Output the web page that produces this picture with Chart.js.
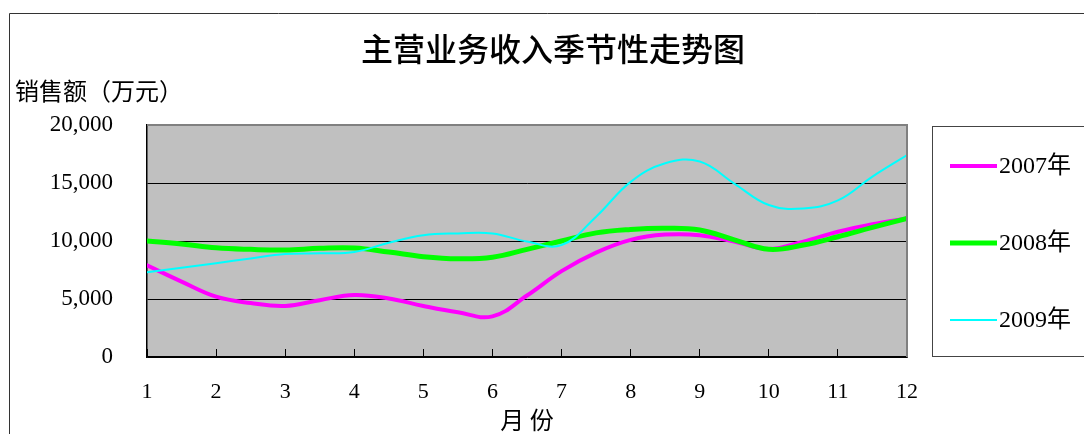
<!DOCTYPE html>
<html>
<head>
<meta charset="utf-8">
<script src="https://cdn.jsdelivr.net/npm/chart.js@4"></script>
<style>
  body { margin: 0; background: #fff; }
  #wrap { width: 1084px; height: 434px; position: relative; }
</style>
</head>
<body>
<div id="wrap"><canvas id="chart"></canvas></div>
<script>
// month positions read at half-month steps
const months = [1, 1.5, 2, 2.5, 3, 3.5, 4, 4.5, 5, 5.5, 6, 6.5, 7, 7.5, 8, 8.5, 9, 9.5, 10, 10.5, 11, 11.5, 12];
const sales2007 = [7900, 6500, 5200, 4650, 4400, 4900, 5350, 5050, 4400, 3850, 3500, 5300, 7400, 9000, 10100, 10550, 10500, 9950, 9300, 9950, 10800, 11450, 11950];
const sales2008 = [10000, 9750, 9420, 9280, 9220, 9370, 9400, 9050, 8650, 8470, 8600, 9280, 10000, 10700, 11000, 11100, 10950, 10100, 9280, 9650, 10370, 11180, 11950];
const sales2009 = [7300, 7700, 8080, 8500, 8880, 8940, 9050, 9850, 10500, 10650, 10650, 9950, 9650, 12100, 15100, 16700, 16850, 14950, 13100, 12800, 13500, 15550, 17400];
const seriesNames = ['2007年', '2008年', '2009年'];
const yTicks = [0, 5000, 10000, 15000, 20000];

const numFont = "'Liberation Serif', 'Noto Sans CJK SC', serif";
const cjkFont = "'Noto Sans CJK SC', sans-serif";

const toPoints = vals => vals.map((v, i) => ({ x: months[i], y: v }));

// plot background, frame, titles, legend
const decor = {
  id: 'decor',
  beforeDraw(chart) {
    const { ctx, chartArea: a } = chart;
    ctx.save();
    ctx.fillStyle = '#c0c0c0';
    ctx.fillRect(a.left, a.top, a.right - a.left, a.bottom - a.top);
    ctx.restore();
  },
  afterDraw(chart) {
    const { ctx, chartArea: a } = chart;
    ctx.save();
    // gray frame top + right
    ctx.strokeStyle = '#808080';
    ctx.lineWidth = 2;
    ctx.beginPath();
    ctx.moveTo(a.left, a.top);
    ctx.lineTo(a.right, a.top);
    ctx.lineTo(a.right, a.bottom);
    ctx.stroke();

    // outer chart border
    ctx.strokeStyle = '#333';
    ctx.lineWidth = 1;
    ctx.beginPath();
    ctx.moveTo(9.5, 440);
    ctx.lineTo(9.5, 13.5);
    ctx.lineTo(1090, 13.5);
    ctx.stroke();

    // title
    ctx.fillStyle = '#000';
    ctx.textBaseline = 'middle';
    ctx.textAlign = 'center';
    ctx.font = '500 32px ' + cjkFont;
    ctx.fillText('主营业务收入季节性走势图', 553, 49);

    // y axis title
    ctx.textAlign = 'left';
    ctx.font = '24px ' + cjkFont;
    ctx.fillText('销售额（万元）', 15, 91);

    // legend
    ctx.fillStyle = '#fff';
    ctx.fillRect(932.5, 126.5, 160, 230);
    ctx.strokeStyle = '#444';
    ctx.lineWidth = 1;
    ctx.strokeRect(932.5, 126.5, 160, 230);
    const rows = [166, 243, 320];
    chart.data.datasets.forEach((ds, i) => {
      ctx.strokeStyle = ds.borderColor;
      ctx.lineWidth = ds.borderWidth;
      ctx.beginPath();
      ctx.moveTo(950, rows[i]);
      ctx.lineTo(997, rows[i]);
      ctx.stroke();
      ctx.fillStyle = '#000';
      ctx.font = '24px ' + numFont;
      ctx.fillText(ds.label, 999, rows[i] + 1);
    });
    ctx.restore();
  }
};

new Chart(document.getElementById('chart'), {
  type: 'line',
  data: {
    datasets: [
      { label: seriesNames[0], data: toPoints(sales2007), borderColor: '#ff00ff', borderWidth: 4, order: 3 },
      { label: seriesNames[1], data: toPoints(sales2008), borderColor: '#00ff00', borderWidth: 5, order: 2 },
      { label: seriesNames[2], data: toPoints(sales2009), borderColor: '#00ffff', borderWidth: 2, order: 1 }
    ]
  },
  options: {
    responsive: true,
    maintainAspectRatio: false,
    animation: false,
    layout: { padding: { top: 125, right: 177, left: 0, bottom: 0 } },
    elements: {
      point: { radius: 0 },
      line: { tension: 0.4, borderCapStyle: 'round', borderJoinStyle: 'round' }
    },
    plugins: {
      legend: { display: false },
      tooltip: { enabled: false }
    },
    scales: {
      x: {
        type: 'linear',
        min: 1,
        max: 12,
        afterFit: s => { s.height = 77; },
        afterBuildTicks: s => { s.ticks = months.filter(m => Number.isInteger(m)).map(v => ({ value: v })); },
        grid: { drawOnChartArea: false, drawTicks: true, tickLength: -8, color: '#000', lineWidth: 1 },
        border: { color: '#000', width: 1.5 },
        ticks: { padding: 30, color: '#000', font: { family: numFont, size: 22 }, maxRotation: 0 },
        title: { display: true, text: '月 份', color: '#000', font: { family: cjkFont, size: 24 }, padding: 0 }
      },
      y: {
        min: 0,
        max: 20000,
        afterFit: s => { s.width = 147; },
        afterBuildTicks: s => { s.ticks = yTicks.map(v => ({ value: v })); },
        grid: {
          drawTicks: false,
          color: c => (c.tick && c.tick.value === 20000 ? '#808080' : '#000'),
          lineWidth: 1
        },
        border: { color: '#000', width: 1.5 },
        ticks: {
          padding: 34,
          color: '#000',
          font: { family: numFont, size: 23 },
          callback: v => v.toLocaleString('en-US')
        }
      }
    }
  },
  plugins: [decor]
});
</script>
</body>
</html>
